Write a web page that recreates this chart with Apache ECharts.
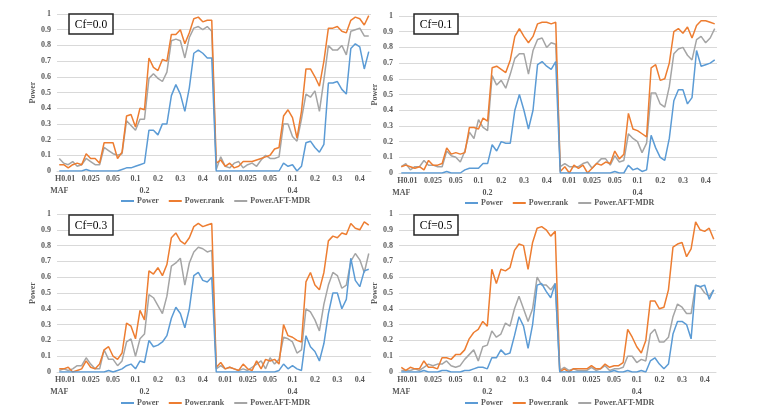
<!DOCTYPE html>
<html><head><meta charset="utf-8">
<script src="https://cdn.jsdelivr.net/npm/echarts@6/dist/echarts.min.js"></script>
<style>html,body{margin:0;padding:0;background:#fff}#c{width:772px;height:414px}</style>
</head><body><div id="c"></div>
<script>
// ---- data ----
const hLabels = ['0.01','0.025','0.05','0.1','0.2','0.3','0.4'];
const hHeader = 'H';
const mafHeader = 'MAF';
const mafLabels = ['0.2','0.4'];
const ptsPerH = 5;
const panelTitles = ['Cf=0.0','Cf=0.1','Cf=0.3','Cf=0.5'];
const seriesNames = ['Power','Power.rank','Power.AFT-MDR'];

const p1Power = [0,0,0,0,0, 0,0.01,0,0,0, 0,0,0,0,0.01, 0.02,0.02,0.03,0.04,0.05, 0.26,0.26,0.23,0.30,0.30, 0.48,0.55,0.49,0.38,0.53, 0.75,0.77,0.75,0.72,0.72,
  0,0,0,0,0, 0,0,0,0,0, 0,0,0,0,0, 0.05,0.03,0.04,0,0.03, 0.18,0.19,0.15,0.12,0.17, 0.56,0.56,0.57,0.52,0.49, 0.78,0.81,0.79,0.65,0.76];
const p1Rank = [0.04,0.04,0.02,0.04,0.05, 0.04,0.11,0.08,0.08,0.05, 0.18,0.18,0.18,0.08,0.12, 0.35,0.36,0.28,0.40,0.39, 0.72,0.66,0.64,0.71,0.70, 0.87,0.87,0.90,0.81,0.88, 0.97,0.98,0.95,0.96,0.96,
  0.05,0.07,0.03,0.05,0.02, 0.03,0.06,0.06,0.06,0.07, 0.08,0.09,0.10,0.14,0.15, 0.35,0.39,0.34,0.21,0.38, 0.65,0.65,0.60,0.54,0.70, 0.91,0.91,0.92,0.89,0.88, 0.96,0.98,0.97,0.93,0.99];
const p1Aft = [0.08,0.05,0.04,0.06,0.03, 0.04,0.08,0.06,0.04,0.04, 0.15,0.13,0.11,0.10,0.11, 0.32,0.29,0.26,0.33,0.33, 0.59,0.62,0.59,0.57,0.63, 0.83,0.84,0.83,0.72,0.85, 0.91,0.92,0.90,0.92,0.89,
  0.01,0.09,0.03,0.02,0.05, 0.06,0.02,0.04,0.05,0.03, 0.07,0.10,0.08,0.08,0.09, 0.30,0.30,0.22,0.19,0.33, 0.49,0.47,0.51,0.38,0.58, 0.80,0.77,0.77,0.80,0.74, 0.89,0.90,0.91,0.86,0.86];

const p2Power = [0,0,0,0,0, 0,0,0,0,0, 0.01,0,0,0,0.02, 0.03,0.03,0.03,0.06,0.06, 0.18,0.14,0.20,0.19,0.19, 0.40,0.50,0.40,0.28,0.40, 0.69,0.71,0.68,0.66,0.71,
  0,0,0,0,0, 0,0,0,0,0, 0,0,0.01,0,0, 0.05,0.02,0.03,0.01,0.02, 0.24,0.16,0.10,0.08,0.22, 0.46,0.53,0.53,0.44,0.48, 0.78,0.68,0.69,0.70,0.72];
const p2Rank = [0.04,0.05,0.04,0.03,0.04, 0.02,0.08,0.05,0.05,0.06, 0.16,0.12,0.13,0.12,0.13, 0.29,0.29,0.28,0.35,0.33, 0.67,0.68,0.66,0.64,0.72, 0.87,0.92,0.87,0.83,0.87, 0.95,0.96,0.96,0.95,0.96,
  0.01,0.04,0.00,0.05,0.03, 0.05,0.00,0.03,0.06,0.05, 0.07,0.06,0.14,0.09,0.12, 0.38,0.28,0.27,0.25,0.23, 0.67,0.69,0.59,0.60,0.70, 0.90,0.92,0.89,0.93,0.86, 0.94,0.97,0.97,0.96,0.95];
const p2Aft = [0.04,0.06,0.02,0.04,0.04, 0.08,0.05,0.05,0.04,0.04, 0.14,0.11,0.10,0.07,0.14, 0.26,0.22,0.34,0.29,0.27, 0.62,0.56,0.59,0.54,0.63, 0.73,0.76,0.76,0.63,0.78, 0.85,0.86,0.80,0.83,0.82,
  0.04,0.06,0.04,0.04,0.04, 0.06,0.07,0.03,0.06,0.09, 0.09,0.05,0.11,0.07,0.08, 0.25,0.22,0.20,0.13,0.19, 0.51,0.51,0.44,0.42,0.55, 0.76,0.79,0.80,0.75,0.72, 0.85,0.87,0.83,0.86,0.92];

const p3Power = [0,0,0,0,0, 0,0,0,0,0, 0,0.01,0,0.01,0.02, 0.04,0.05,0.02,0.07,0.06, 0.20,0.16,0.17,0.19,0.23, 0.34,0.41,0.37,0.28,0.40, 0.61,0.63,0.58,0.57,0.60,
  0,0,0,0,0, 0,0,0,0,0, 0,0,0,0,0.01, 0.05,0.02,0.04,0.02,0.01, 0.23,0.16,0.13,0.07,0.18, 0.37,0.50,0.50,0.40,0.46, 0.72,0.58,0.54,0.64,0.65];
const p3Rank = [0.02,0.02,0.03,0.00,0.01, 0.02,0.07,0.03,0.02,0.05, 0.14,0.16,0.10,0.08,0.12, 0.31,0.29,0.21,0.39,0.33, 0.64,0.62,0.66,0.61,0.68, 0.85,0.88,0.83,0.81,0.85, 0.92,0.94,0.92,0.93,0.94,
  0.03,0.06,0.02,0.03,0.02, 0.01,0.05,0.02,0.01,0.07, 0.02,0.08,0.07,0.08,0.05, 0.30,0.23,0.22,0.20,0.19, 0.57,0.63,0.55,0.52,0.63, 0.83,0.86,0.85,0.88,0.87, 0.94,0.91,0.90,0.95,0.93];
const p3Aft = [0.01,0.02,0.01,0.02,0.04, 0.04,0.09,0.05,0.02,0.02, 0.14,0.08,0.08,0.04,0.07, 0.19,0.21,0.10,0.21,0.24, 0.49,0.47,0.42,0.37,0.48, 0.67,0.69,0.72,0.55,0.69, 0.76,0.79,0.78,0.76,0.77,
  0.02,0.04,0.02,0.03,0.02, 0.01,0.02,0.01,0.03,0.05, 0.07,0.02,0.09,0.05,0.08, 0.22,0.21,0.19,0.12,0.14, 0.40,0.38,0.33,0.26,0.43, 0.55,0.63,0.61,0.53,0.55, 0.70,0.75,0.71,0.63,0.75];

const p4Power = [0,0,0,0,0, 0.01,0,0,0,0.01, 0.01,0,0,0,0.01, 0.01,0.02,0.03,0.03,0.02, 0.09,0.09,0.14,0.11,0.12, 0.23,0.35,0.29,0.15,0.30, 0.55,0.56,0.51,0.47,0.56,
  0,0,0,0,0, 0,0,0,0,0, 0,0,0.01,0,0, 0.01,0,0,0.01,0, 0.07,0.09,0.05,0.02,0.05, 0.24,0.32,0.32,0.30,0.21, 0.55,0.54,0.55,0.46,0.52];
const p4Rank = [0.03,0.01,0.03,0.02,0.02, 0.07,0.03,0.03,0.02,0.09, 0.09,0.08,0.11,0.11,0.14, 0.21,0.25,0.27,0.32,0.29, 0.65,0.56,0.65,0.64,0.66, 0.77,0.81,0.80,0.65,0.82, 0.91,0.92,0.90,0.86,0.89,
  0.00,0.02,0.00,0.02,0.02, 0.02,0.02,0.04,0.02,0.02, 0.05,0.03,0.04,0.04,0.06, 0.27,0.22,0.16,0.12,0.20, 0.45,0.45,0.40,0.41,0.52, 0.79,0.81,0.82,0.73,0.78, 0.95,0.90,0.89,0.91,0.84];
const p4Aft = [0.01,0.01,0.01,0.02,0.01, 0.03,0.05,0.04,0.05,0.05, 0.07,0.04,0.03,0.04,0.08, 0.11,0.14,0.07,0.16,0.17, 0.26,0.22,0.24,0.31,0.29, 0.40,0.48,0.40,0.32,0.40, 0.60,0.55,0.55,0.52,0.56,
  0.01,0.03,0.01,0.02,0.01, 0.01,0.01,0.03,0.01,0.02, 0.04,0.01,0.02,0.02,0.03, 0.10,0.10,0.06,0.08,0.07, 0.24,0.27,0.19,0.19,0.22, 0.35,0.43,0.41,0.37,0.37, 0.55,0.54,0.50,0.48,0.52];

const panels = [
  [p1Power, p1Rank, p1Aft],
  [p2Power, p2Rank, p2Aft],
  [p3Power, p3Rank, p3Aft],
  [p4Power, p4Rank, p4Aft]
];

// ---- layout ----
const colors = ['#5B9BD5', '#ED7D31', '#A5A5A5'];
const grids = [
  {left: 57, top: 14, width: 314, height: 157},
  {left: 399, top: 16, width: 318, height: 157},
  {left: 57, top: 214, width: 314, height: 158},
  {left: 399, top: 214, width: 317, height: 158}
];
const nameGaps = [20, 18, 20, 18];
const legendPos = [{left: 121, top: 197}, {left: 465, top: 199}, {left: 121, top: 399}, {left: 465, top: 399}];
const boxPos = [{x: 69, y: 14}, {x: 414, y: 14}, {x: 69, y: 215}, {x: 414, y: 215}];
const groupLabelIdx = [19, 52];

const cats = [];
mafLabels.forEach(m => hLabels.forEach(h => { for (let k = 0; k < ptsPerH; k++) cats.push(m + '|' + h + '|' + k); }));

const FONT = 'Liberation Serif';
const lblStyle = {fontFamily: FONT, fontWeight: 'bold', fontSize: 8, color: '#595959'};

const xAxes = [], yAxes = [], series = [], legends = [], graphics = [];
grids.forEach((g, p) => {
  xAxes.push({
    type: 'category', gridIndex: p, data: cats, boundaryGap: true,
    axisLine: {show: true, lineStyle: {color: '#D9D9D9'}},
    axisTick: {show: false},
    axisLabel: Object.assign({}, lblStyle, {
      margin: 4,
      interval: (idx) => idx % ptsPerH === 2,
      formatter: (v, idx) => { const h = v.split('|')[1]; return idx === 2 ? '{h|' + hHeader + h + '}' : h; },
      rich: {h: Object.assign({}, lblStyle, {padding: [0, 6, 0, 0]})}
    })
  });
  xAxes.push({
    type: 'category', gridIndex: p, data: cats, boundaryGap: true, position: 'bottom', offset: 12,
    axisLine: {show: false}, axisTick: {show: false},
    axisLabel: Object.assign({}, lblStyle, {
      margin: 4,
      interval: (idx) => idx === 0 || groupLabelIdx.indexOf(idx) >= 0,
      formatter: (v, idx) => idx === 0 ? mafHeader : v.split('|')[0]
    })
  });
  yAxes.push({
    type: 'value', gridIndex: p, min: 0, max: 1, interval: 0.1,
    name: 'Power', nameLocation: 'middle', nameGap: nameGaps[p],
    nameTextStyle: {fontFamily: FONT, fontWeight: 'bold', fontSize: 8, color: '#595959'},
    axisLine: {show: false}, axisTick: {show: false},
    axisLabel: Object.assign({}, lblStyle, {margin: 6, formatter: (v) => String(Math.round(v * 10) / 10)}),
    splitLine: {lineStyle: {color: '#D9D9D9', width: 1}}
  });
  panels[p].forEach((arr, s) => {
    series.push({
      name: seriesNames[s], type: 'line', xAxisIndex: 2 * p, yAxisIndex: p,
      data: arr, symbol: 'none', showSymbol: false, smooth: false,
      lineStyle: {width: 1.5, color: colors[s]}, itemStyle: {color: colors[s]},
      z: s === 0 ? 3 : (s === 1 ? 2 : 1)
    });
  });
  legends.push({
    left: legendPos[p].left, top: legendPos[p].top, data: seriesNames,
    icon: 'rect', itemWidth: 13, itemHeight: 2, itemGap: 10, padding: 0,
    textStyle: {fontFamily: FONT, fontWeight: 'bold', fontSize: 8, color: '#595959', padding: [0, 0, 0, -2]}
  });
  graphics.push({
    type: 'rect', shape: {x: boxPos[p].x, y: boxPos[p].y, width: 44, height: 20},
    style: {fill: '#fff', stroke: '#262626', lineWidth: 1.5}, z: 100
  });
  graphics.push({
    type: 'text', x: boxPos[p].x + 22, y: boxPos[p].y + 10.5, z: 101,
    style: {text: panelTitles[p], font: '11.5px "Liberation Serif"', fill: '#000', align: 'center', verticalAlign: 'middle'}
  });
});

const chart = echarts.init(document.getElementById('c'), null, {renderer: 'canvas'});
chart.setOption({
  animation: false,
  backgroundColor: '#fff',
  color: colors,
  grid: grids,
  xAxis: xAxes,
  yAxis: yAxes,
  legend: legends,
  series: series,
  graphic: graphics
});
</script>
</body></html>
